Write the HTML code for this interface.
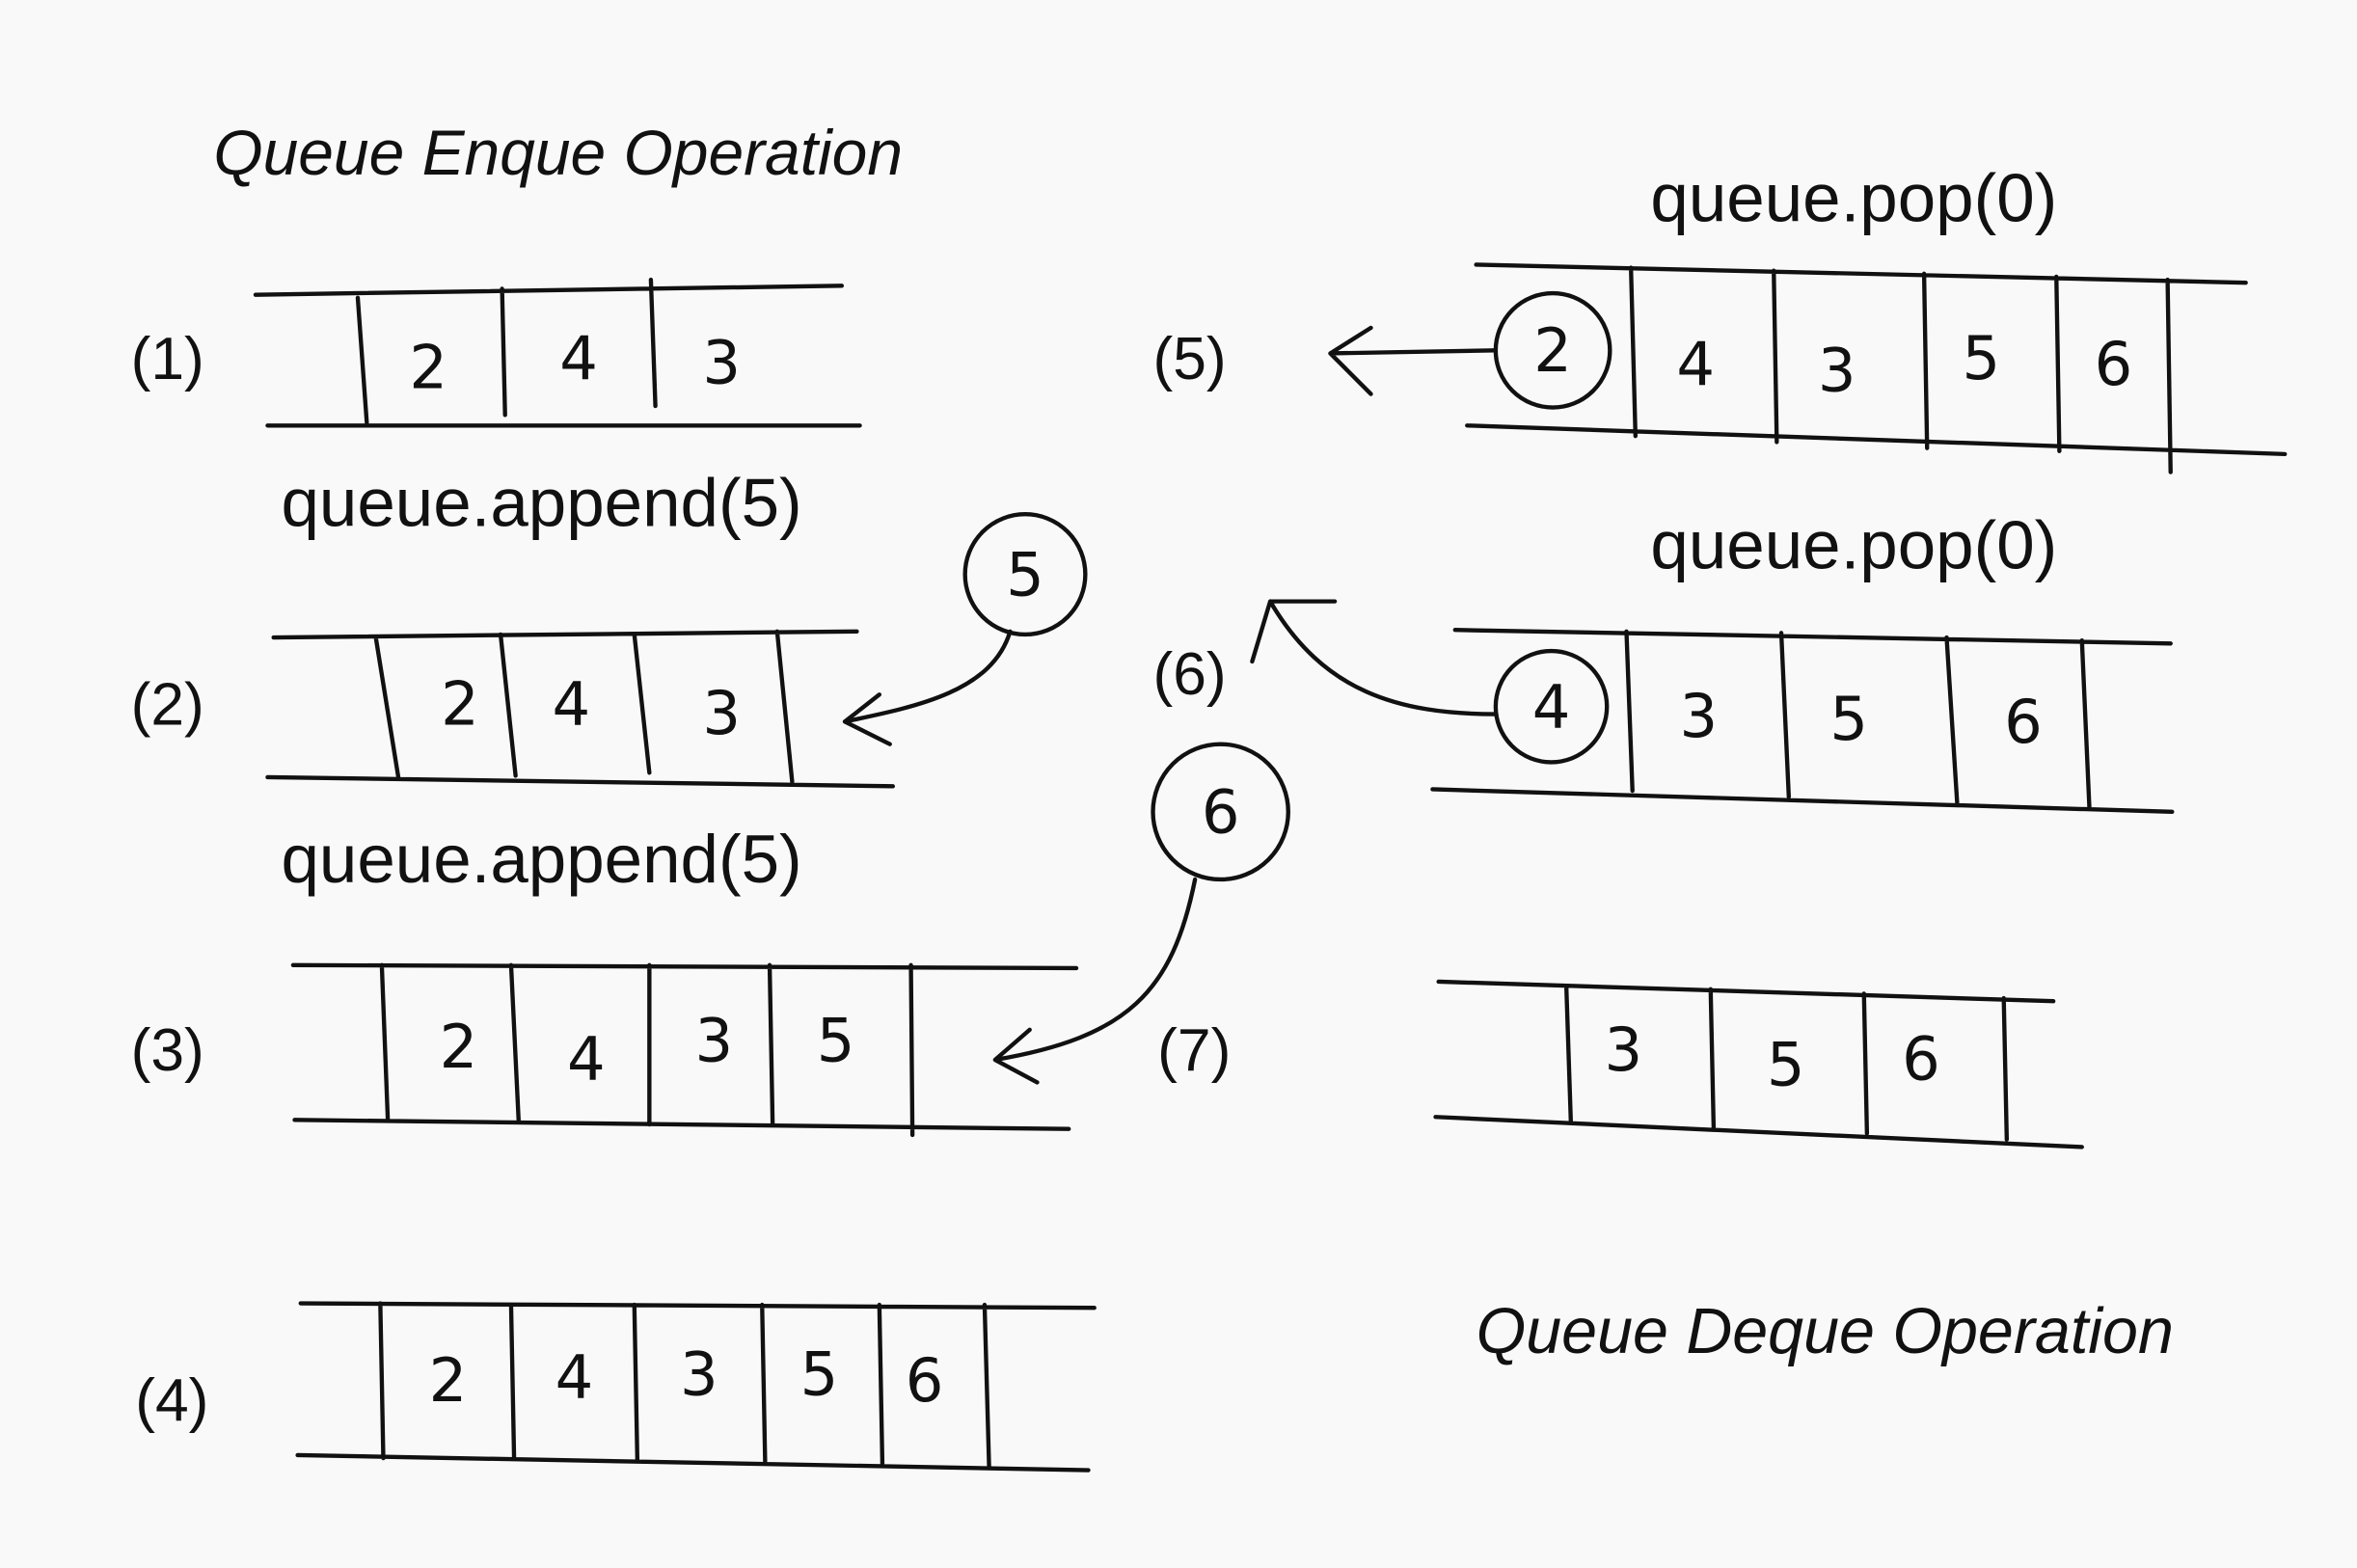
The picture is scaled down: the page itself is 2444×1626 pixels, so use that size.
<!DOCTYPE html>
<html><head><meta charset="utf-8"><style>
html,body{margin:0;padding:0;background:#f9f9f9;}
svg{display:block}
text{font-family:"Liberation Sans",sans-serif;fill:#111}
.t{font-size:42.3px;font-style:italic}
.c{font-size:45.5px}
.l{font-size:40px}
.d{font-size:40px;font-family:"DejaVu Sans",sans-serif;font-weight:normal}
</style></head><body>
<svg width="2444" height="1626" viewBox="0 0 1568 1043" xmlns="http://www.w3.org/2000/svg">
<rect width="1568" height="1043" fill="#f9f9f9"/>
<g stroke="#111" stroke-width="2.8" fill="none" stroke-linecap="round">
<path d="M170 196 L560 190 M178 283 L572 283 M238 198 L244 281 M334 192 L336 276 M433 186 L436 270"/>
<path d="M182 424 L570 420 M178 517 L594 523 M250 424 L265 517 M333 422 L343 516 M422 422 L432 514 M517 420 L527 520"/>
<circle cx="682" cy="382" r="40"/>
<path d="M672 420 C660 460 610 470 562 480 M562 480 L585 462 M562 480 L592 495"/>
<path d="M195 642 L716 644 M196 745 L711 751 M254 642 L258 745 M340 642 L345 745 M432 642 L432 748 M512 642 L514 748 M606 642 L607 755"/>
<circle cx="812" cy="540" r="45"/>
<path d="M795 585 C780 660 750 690 662 705 M662 705 L685 685 M662 705 L690 720"/>
<path d="M200 867 L728 870 M198 968 L724 978 M253 867 L255 970 M340 868 L342 970 M422 868 L424 972 M507 868 L509 972 M585 868 L587 974 M655 868 L658 976"/>
<path d="M982 176 L1494 188 M976 283 L1520 302 M1085 178 L1088 290 M1180 180 L1182 294 M1280 182 L1282 298 M1368 184 L1370 300 M1442 186 L1444 314"/>
<circle cx="1033" cy="233" r="38"/>
<path d="M995 233 L885 235 M885 235 L912 218 M885 235 L912 262"/>
<path d="M968 419 L1444 428 M953 525 L1445 540 M1082 420 L1086 526 M1185 421 L1190 530 M1295 424 L1302 534 M1385 426 L1390 538"/>
<circle cx="1032" cy="470" r="37"/>
<path d="M995 475 C930 475 880 460 845 400 M845 400 L888 400 M845 400 L833 440"/>
<path d="M957 653 L1366 666 M955 743 L1385 763 M1042 656 L1045 746 M1138 658 L1140 750 M1240 661 L1242 754 M1333 664 L1335 758"/>
</g>
<text class="t" x="142" y="116">Queue Enque Operation</text>
<text class="t" x="982" y="900" style="font-size:42.6px">Queue Deque Operation</text>
<text class="c" x="187" y="350">queue.append(5)</text>
<text class="c" x="187" y="587">queue.append(5)</text>
<text class="c" x="1098" y="147">queue.pop(0)</text>
<text class="c" x="1098" y="378">queue.pop(0)</text>
<text class="l" x="87" y="252">(1)</text>
<text class="l" x="87" y="482">(2)</text>
<text class="l" x="87" y="712">(3)</text>
<text class="l" x="90" y="945">(4)</text>
<text class="l" x="767" y="252">(5)</text>
<text class="l" x="767" y="462">(6)</text>
<text class="l" x="770" y="712">(7)</text>
<g text-anchor="middle">
<text class="d" x="285" y="258">2</text><text class="d" x="385" y="252">4</text><text class="d" x="480" y="255">3</text>
<text class="d" x="306" y="482">2</text><text class="d" x="380" y="482">4</text><text class="d" x="480" y="488">3</text>
<text class="d" x="682" y="396">5</text>
<text class="d" x="305" y="710">2</text><text class="d" x="390" y="718">4</text><text class="d" x="475" y="706">3</text><text class="d" x="556" y="706">5</text>
<text class="d" x="812" y="554">6</text>
<text class="d" x="298" y="932">2</text><text class="d" x="382" y="930">4</text><text class="d" x="465" y="928">3</text><text class="d" x="545" y="928">5</text><text class="d" x="615" y="932">6</text>
<text class="d" x="1033" y="247">2</text><text class="d" x="1128" y="256">4</text><text class="d" x="1222" y="260">3</text><text class="d" x="1318" y="252">5</text><text class="d" x="1406" y="256">6</text>
<text class="d" x="1032" y="484">4</text><text class="d" x="1130" y="490">3</text><text class="d" x="1230" y="492">5</text><text class="d" x="1346" y="494">6</text>
<text class="d" x="1080" y="712">3</text><text class="d" x="1188" y="722">5</text><text class="d" x="1278" y="718">6</text>
</g>
</svg>
</body></html>
